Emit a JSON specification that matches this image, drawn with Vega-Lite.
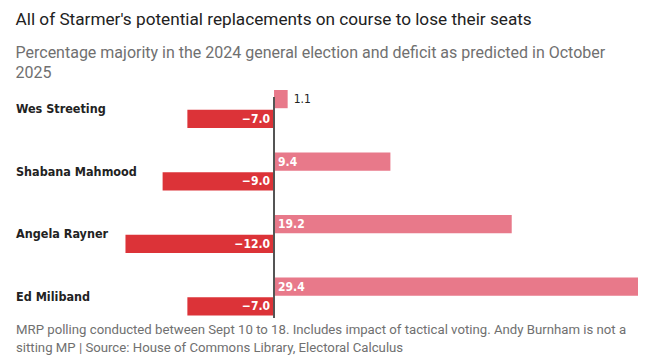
{
  "$schema": "https://vega.github.io/schema/vega-lite/v6.json",
  "width": 515,
  "height": 229.5,
  "padding": {"left": 15, "top": 10, "right": 5, "bottom": 3},
  "background": "white",
  "config": {"view": {"stroke": null}, "font": "Roboto"},
  "title": {
    "text": "All of Starmer's potential replacements on course to lose their seats",
    "subtitle": ["Percentage majority in the 2024 general election and deficit as predicted in October", "2025"],
    "anchor": "start",
    "frame": "bounds",
    "font": "Roboto",
    "fontSize": 17.2,
    "fontWeight": "normal",
    "color": "#222222",
    "subtitleFont": "Roboto",
    "subtitleFontSize": 16,
    "subtitleColor": "#707070",
    "subtitlePadding": 17,
    "subtitleLineHeight": 20,
    "offset": 7
  },
  "data": {
    "values": [
      {"name": "Wes Streeting", "series": "2024 general election", "value": 1.1},
      {"name": "Wes Streeting", "series": "October 2025", "value": -7.0},
      {"name": "Shabana Mahmood", "series": "2024 general election", "value": 9.4},
      {"name": "Shabana Mahmood", "series": "October 2025", "value": -9.0},
      {"name": "Angela Rayner", "series": "2024 general election", "value": 19.2},
      {"name": "Angela Rayner", "series": "October 2025", "value": -12.0},
      {"name": "Ed Miliband", "series": "2024 general election", "value": 29.4},
      {"name": "Ed Miliband", "series": "October 2025", "value": -7.0}
    ]
  },
  "encoding": {
    "y": {
      "field": "name",
      "type": "nominal",
      "sort": null,
      "scale": {"paddingInner": 0.392, "paddingOuter": 0.032},
      "axis": {
        "title": null,
        "ticks": false,
        "tickSize": 0,
        "domain": false,
        "labelAlign": "left",
        "labelPadding": 107.5,
        "labelFont": "DejaVu Sans Condensed",
        "labelFontSize": 12.5,
        "labelFontWeight": "bold",
        "labelColor": "#222222"
      }
    },
    "yOffset": {
      "field": "series",
      "type": "nominal",
      "sort": ["2024 general election", "October 2025"],
      "scale": {"paddingInner": 0.08}
    }
  },
  "layer": [
    {
      "mark": {"type": "bar"},
      "encoding": {
        "x": {
          "field": "value",
          "type": "quantitative",
          "scale": {"domain": [-12.2, 29.4], "nice": false, "zero": false},
          "axis": {
            "labels": false,
            "ticks": false,
            "domain": false,
            "grid": false,
            "title": ["MRP polling conducted between Sept 10 to 18. Includes impact of tactical voting. Andy Burnham is not a", "sitting MP | Source: House of Commons Library, Electoral Calculus"],
            "titleFont": "Roboto",
            "titleFontSize": 13.2,
            "titleFontWeight": "normal",
            "titleColor": "#707070",
            "titleAnchor": "start",
            "titleAlign": "left",
            "titleBaseline": "top",
            "titleLineHeight": 18,
            "titleX": -107.5,
            "titleY": 6
          }
        },
        "color": {
          "field": "series",
          "type": "nominal",
          "scale": {"domain": ["2024 general election", "October 2025"], "range": ["#e8798a", "#dc3338"]},
          "legend": null
        }
      }
    },
    {
      "transform": [{"filter": "datum.series == 'October 2025'"}],
      "mark": {"type": "text", "align": "right", "baseline": "middle", "dx": -4, "font": "DejaVu Sans Condensed", "fontSize": 12, "fontWeight": "bold", "color": "white"},
      "encoding": {
        "x": {"datum": 0, "type": "quantitative"},
        "text": {"field": "value", "type": "quantitative", "format": ".1f"}
      }
    },
    {
      "transform": [{"filter": "datum.series == '2024 general election' && datum.value >= 3"}],
      "mark": {"type": "text", "align": "left", "baseline": "middle", "dx": 4, "font": "DejaVu Sans Condensed", "fontSize": 12, "fontWeight": "bold", "color": "white"},
      "encoding": {
        "x": {"datum": 0, "type": "quantitative"},
        "text": {"field": "value", "type": "quantitative", "format": ".1f"}
      }
    },
    {
      "transform": [{"filter": "datum.series == '2024 general election' && datum.value < 3"}],
      "mark": {"type": "text", "align": "left", "baseline": "middle", "dx": 6, "font": "DejaVu Sans Condensed", "fontSize": 12, "fontWeight": "normal", "color": "#222222"},
      "encoding": {
        "x": {"field": "value", "type": "quantitative"},
        "text": {"field": "value", "type": "quantitative", "format": ".1f"}
      }
    },
    {
      "mark": {"type": "rule", "color": "#555555", "strokeWidth": 1.5},
      "encoding": {"x": {"datum": 0, "type": "quantitative"}, "y": {"value": 0}, "y2": {"value": 229.5}}
    }
  ]
}
